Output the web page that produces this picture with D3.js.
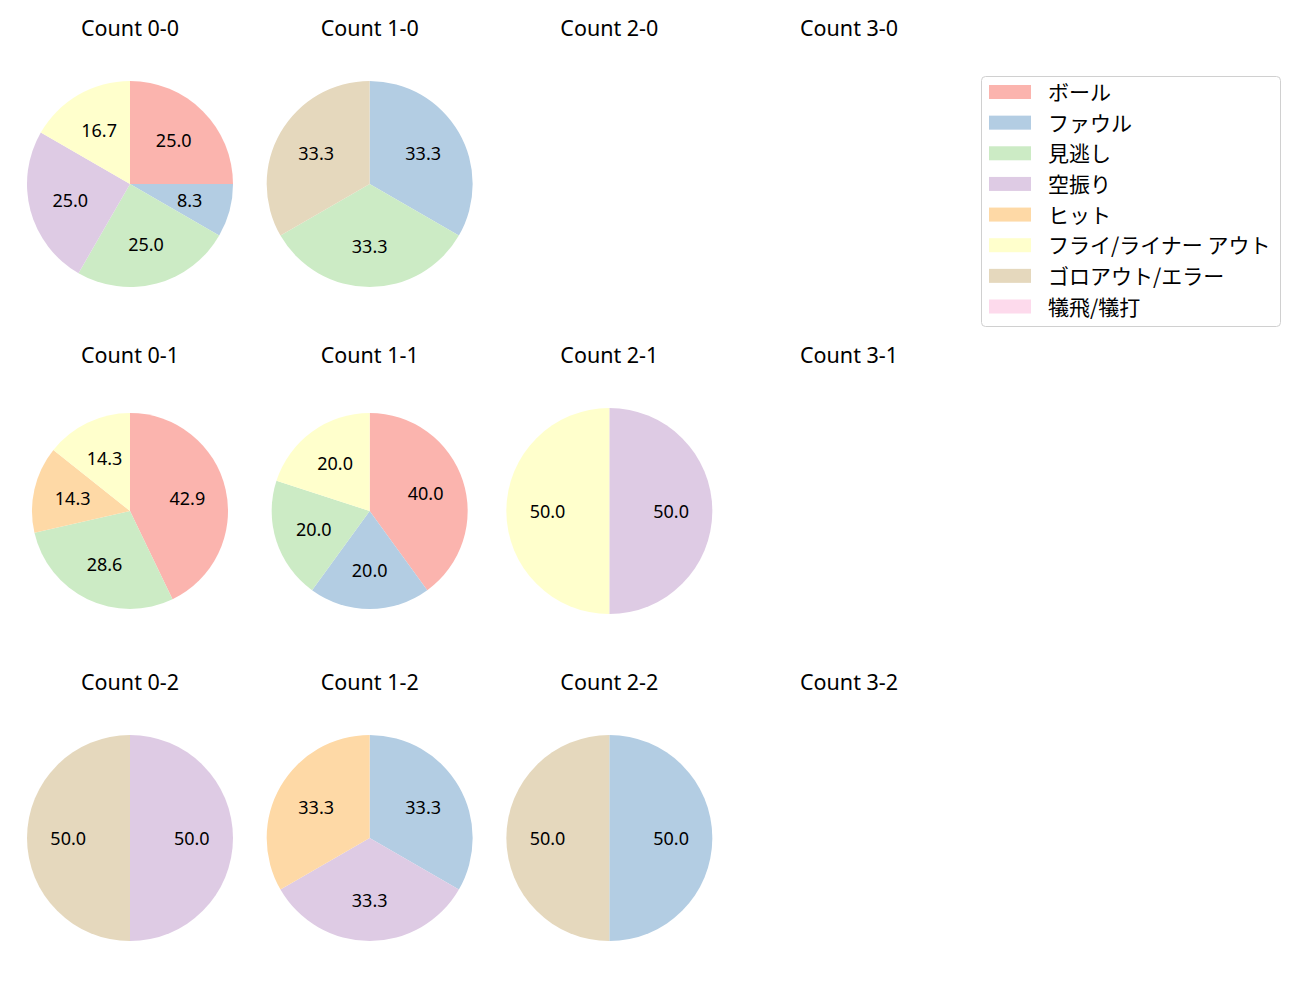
<!DOCTYPE html>
<html>
<head>
<meta charset="utf-8">
<script src="https://cdn.jsdelivr.net/npm/d3@7"></script>
<style>
  body { margin: 0; background: #fff; }
  text { font-family: "Noto Sans", "Noto Sans CJK JP", sans-serif; }
  .legend text { font-family: "Noto Sans CJK JP", sans-serif; }
</style>
</head>
<body>
<div id="app"></div>
<script>
const categories = ["ボール", "ファウル", "見逃し", "空振り", "ヒット", "フライ/ライナー アウト", "ゴロアウト/エラー", "犠飛/犠打"]
const colors = ["#fbb4ae", "#b3cde3", "#ccebc5", "#decbe4", "#fed9a6", "#ffffcc", "#e5d8bd", "#fddaec"]

// counts per category, in category order
const count_0_0 = [3, 1, 3, 3, 0, 2, 0, 0]
const count_1_0 = [0, 1, 1, 0, 0, 0, 1, 0]
const count_2_0 = [0, 0, 0, 0, 0, 0, 0, 0]
const count_3_0 = [0, 0, 0, 0, 0, 0, 0, 0]
const count_0_1 = [3, 0, 2, 0, 1, 1, 0, 0]
const count_1_1 = [2, 1, 1, 0, 0, 1, 0, 0]
const count_2_1 = [0, 0, 0, 1, 0, 1, 0, 0]
const count_3_1 = [0, 0, 0, 0, 0, 0, 0, 0]
const count_0_2 = [0, 0, 0, 1, 0, 0, 1, 0]
const count_1_2 = [0, 1, 0, 1, 1, 0, 0, 0]
const count_2_2 = [0, 1, 0, 0, 0, 0, 1, 0]
const count_3_2 = [0, 0, 0, 0, 0, 0, 0, 0]

const balls = ["0", "1", "2", "3"]
const strikes = ["0", "1", "2"]
const counts = [
   [count_0_0, count_1_0, count_2_0, count_3_0],
   [count_0_1, count_1_1, count_2_1, count_3_1],
   [count_0_2, count_1_2, count_2_2, count_3_2]
]

const width = 1300, height = 1000
const svg = d3.select("#app").append("svg")
   .attr("width", width)
   .attr("height", height)

const col_x = d3.scalePoint().domain(balls).range([130, 849])
const row_y = d3.scalePoint().domain(strikes).range([184, 838])
const color = d3.scaleOrdinal().domain(categories).range(colors)

// two of the pies render a bit smaller in the original
const radius_for = (b, s) => (s === "1" && (b === "0" || b === "1")) ? 98 : 103

const pie = d3.pie()
   .value(d => d.v)
   .sort(null)
   .startAngle(0)
   .endAngle(2 * Math.PI)

strikes.forEach((s, si) => {
   balls.forEach((b, bi) => {
      const cx = col_x(b), cy = row_y(s)
      const g = svg.append("g")

      g.append("text")
         .attr("x", cx)
         .attr("y", cy - 148)
         .attr("text-anchor", "middle")
         .attr("font-size", "21.5px")
         .attr("fill", "#000")
         .text(`Count ${b}-${s}`)

      const vals = counts[si][bi]
      const total = d3.sum(vals)
      if (total === 0) return

      const r = radius_for(b, s)
      const data = categories.map((c, i) => ({c: c, v: vals[i]})).filter(d => d.v > 0)
      const arcs = pie(data)
      const arc = d3.arc().innerRadius(0).outerRadius(r)
      const label_arc = d3.arc().innerRadius(r * 0.6).outerRadius(r * 0.6)

      const pg = g.append("g").attr("transform", `translate(${cx},${cy})`)
      pg.selectAll("path")
         .data(arcs)
         .join("path")
         .attr("d", arc)
         .attr("fill", d => color(d.data.c))

      pg.selectAll("text")
         .data(arcs)
         .join("text")
         .attr("transform", d => `translate(${label_arc.centroid(d)})`)
         .attr("text-anchor", "middle")
         .attr("dominant-baseline", "central")
         .attr("font-size", "18px")
         .attr("fill", "#000")
         .text(d => (d.data.v / total * 100).toFixed(1))
   })
})

// legend
const legend = svg.append("g").attr("class", "legend")
legend.append("rect")
   .attr("x", 981.5)
   .attr("y", 76.5)
   .attr("width", 299)
   .attr("height", 250)
   .attr("rx", 4)
   .attr("fill", "#fff")
   .attr("stroke", "#d0d0d0")

const ly = d3.scalePoint().domain(categories).range([92, 306.5])
const item = legend.selectAll(".item")
   .data(categories)
   .join("g")
   .attr("class", "item")
   .attr("transform", d => `translate(0,${ly(d)})`)

item.append("rect")
   .attr("x", 989)
   .attr("y", -7)
   .attr("width", 42)
   .attr("height", 14)
   .attr("fill", d => color(d))

item.append("text")
   .attr("x", 1048)
   .attr("y", -1)
   .attr("dominant-baseline", "central")
   .attr("font-size", "21px")
   .attr("fill", "#000")
   .text(d => d)
</script>
</body>
</html>
